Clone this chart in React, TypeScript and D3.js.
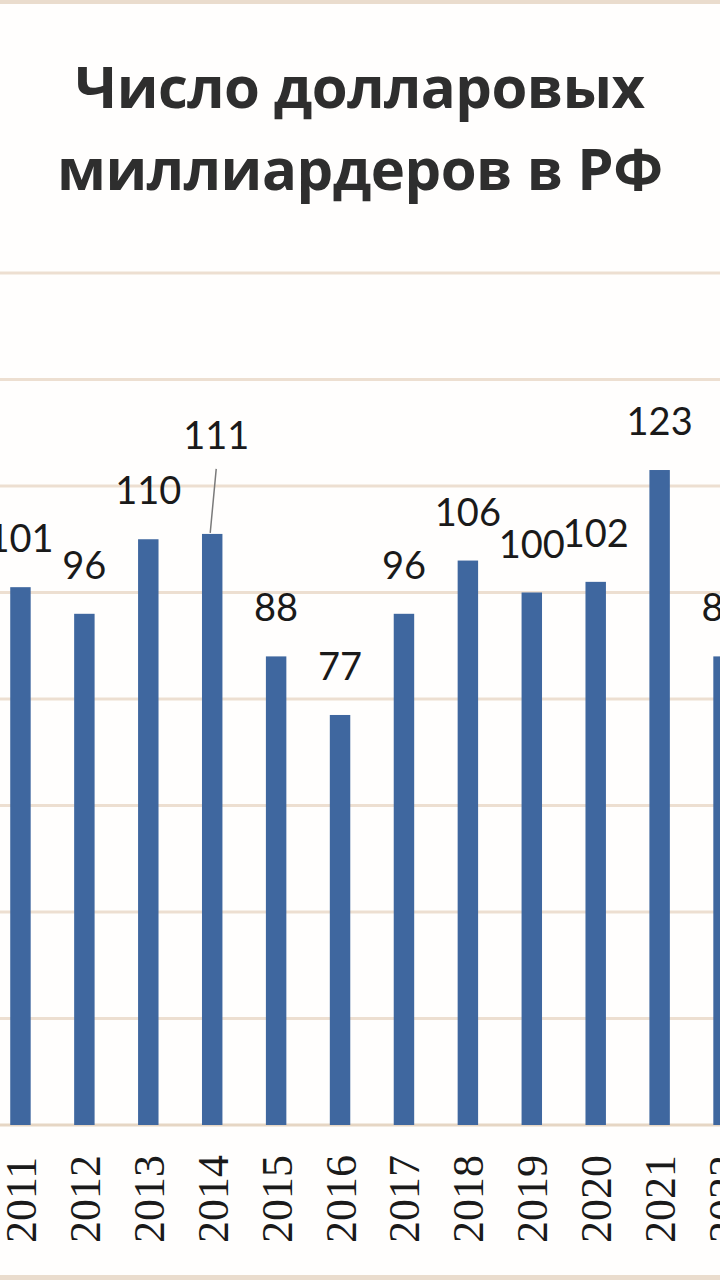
import React from "react";
import * as d3 from "d3";

const years = ["2011","2012","2013","2014","2015","2016","2017","2018","2019","2020","2021","2022"];
const counts = [101, 96, 110, 111, 88, 77, 96, 106, 100, 102, 123, 88];
const gridTicks = [0, 20, 40, 60, 80, 100, 120, 140, 160];
const titleLines = ["Число долларовых", "миллиардеров в РФ"];

const W = 720;
const H = 1280;

export default function App() {
  const x = d3.scaleBand<string>().domain(years).range([-11.5, 755.5]).paddingInner(0.68).paddingOuter(0.34);
  const y = d3.scaleLinear().domain([0, 200]).range([1125, 60]);
  const gridColor = "#eddfd1";
  const barColor = "#3f679f";

  return (
    <svg width={W} height={H} style={{ position: "absolute", left: 0, top: 0, background: "#fffefd" }}>
      <rect x={0} y={0} width={W} height={H} fill="#fffefd" />
      {/* frame lines */}
      <rect x={0} y={0} width={W} height={4} fill="#eadccd" />
      <rect x={0} y={1275} width={W} height={5} fill="#eadccd" />
      {/* gridlines */}
      {gridTicks.map((t) => (
        <line key={t} x1={0} x2={W} y1={y(t)} y2={y(t)} stroke={t === 0 ? "#e6d6c4" : gridColor} strokeWidth={3} />
      ))}
      {/* bars */}
      {years.map((yr, i) => (
        <rect
          key={yr}
          x={x(yr)!}
          y={y(counts[i])}
          width={x.bandwidth()}
          height={y(0) - y(counts[i])}
          fill={barColor}
        />
      ))}
      {/* value labels */}
      {years.map((yr, i) => {
        const cx = x(yr)! + x.bandwidth() / 2;
        const moved = yr === "2014";
        const lx = moved ? cx + 4 : cx;
        const ly = moved ? y(counts[i]) - 85 : y(counts[i]) - 35;
        return (
          <g key={"l" + yr}>
            {moved && (
              <line x1={cx + 4} y1={ly + 20} x2={cx - 2} y2={y(counts[i]) - 1} stroke="#7a7a7a" strokeWidth={1.5} />
            )}
            <text x={lx} y={ly} textAnchor="middle" fontFamily="Lato, 'Open Sans', sans-serif" fontSize={38} fill="#1a1a1a">
              {counts[i]}
            </text>
          </g>
        );
      })}
      {/* year labels */}
      {years.map((yr) => {
        const cx = x(yr)! + x.bandwidth() / 2 + 1;
        return (
          <text
            key={"y" + yr}
            transform={`translate(${cx},1243) rotate(-90)`}
            textAnchor="start"
            dominantBaseline="central"
            fontFamily="'Liberation Serif', 'Times New Roman', serif"
            fontSize={44}
            fill="#1a1a1a"
          >
            {yr}
          </text>
        );
      })}
      {/* title */}
      <text x={360} y={108} textAnchor="middle" fontFamily="'Open Sans', sans-serif" fontWeight={700} fontSize={58} fill="#2e2e2e" textLength={570}>
        {titleLines[0]}
      </text>
      <text x={360} y={190} textAnchor="middle" fontFamily="'Open Sans', sans-serif" fontWeight={700} fontSize={58} fill="#2e2e2e" textLength={606}>
        {titleLines[1]}
      </text>
    </svg>
  );
}
